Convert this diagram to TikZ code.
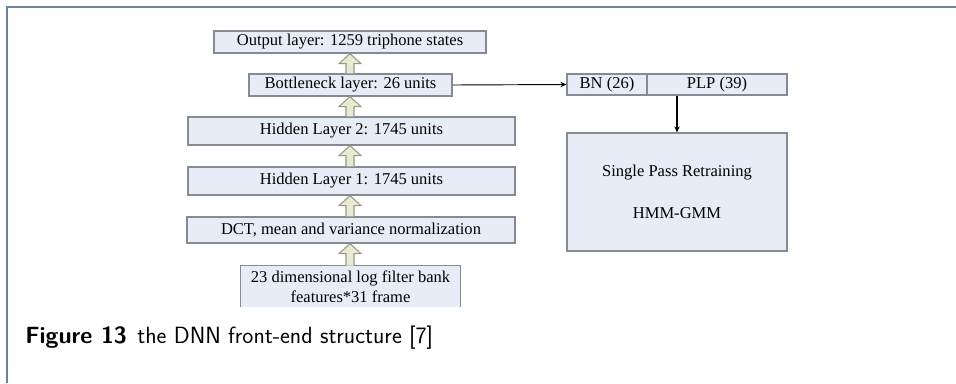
\documentclass[tikz,border=0pt]{standalone}
\usepackage{fontspec}
\setmainfont{Liberation Serif}
\usetikzlibrary{calc,arrows.meta}
\definecolor{boxfill}{HTML}{E7EDF7}
\definecolor{boxline}{HTML}{858A94}
\definecolor{liftfill}{HTML}{E9EAD3}
\definecolor{liftline}{HTML}{9A9A84}
\definecolor{framecol}{HTML}{6A829B}
\tikzset{
  layer/.style={draw=boxline, fill=boxfill, line width=0.9pt, inner sep=0pt,
    font=\fontsize{12.4pt}{14pt}\selectfont, align=center},
  liftstyle/.style={draw=liftline, fill=liftfill, line width=0.8pt, line join=miter},
  flow/.style={draw=black, line width=0.7pt, -{Stealth[length=4.5pt,width=4pt]}}
}
% hollow upward block arrow from the top of box #1 to the bottom of box #2
\newcommand\liftarrow[2]{%
  \path[liftstyle] let \p1=(#1.north), \p2=(#2.south) in
    (262.5pt-3pt,\y1) -- (262.5pt-3pt,\y2-7.5pt) -- (262.5pt-8.25pt,\y2-7.5pt)
    -- (262.5pt,\y2) -- (262.5pt+8.25pt,\y2-7.5pt) -- (262.5pt+3pt,\y2-7.5pt)
    -- (262.5pt+3pt,\y1);}
\begin{document}
\begin{tikzpicture}[x=0.75pt,y=-0.75pt]
\useasboundingbox (0,0) rectangle (956,383);
% page frame
\draw[framecol, line width=1.1pt] (7,383) -- (7,7) -- (956,7);

% network stack
\node[layer, minimum width=204pt, minimum height=16.5pt] (out) at (350,42) {Output layer: 1259 triphone states};
\node[layer, minimum width=152.25pt, minimum height=16.5pt] (bn) at (350.5,85) {Bottleneck layer: 26 units};
\node[layer, minimum width=245.25pt, minimum height=21pt] (h2) at (351.5,131) {Hidden Layer 2: 1745 units};
\node[layer, minimum width=245.25pt, minimum height=21pt] (h1) at (351.5,181) {Hidden Layer 1: 1745 units};
\node[layer, minimum width=246pt, minimum height=19.5pt] (dct) at (351,230) {DCT, mean and variance normalization};
% input box (open at the bottom)
\node[inner sep=0pt, minimum width=164.25pt, minimum height=30.75pt, fill=boxfill,
  font=\fontsize{12.4pt}{15pt}\selectfont, align=center] (in) at (350.5,286.5)
  {23 dimensional log filter bank\\features*31 frame};
\draw[boxline, line width=0.9pt] (in.south west) -- (in.north west) -- (in.north east) -- (in.south east);

\liftarrow{bn}{out}
\liftarrow{h2}{bn}
\liftarrow{h1}{h2}
\liftarrow{dct}{h1}
\liftarrow{in}{dct}

% retraining branch
\node[layer, minimum width=60pt, minimum height=15.75pt] (bnf) at (607,84.5) {BN (26)};
\node[layer, minimum width=105pt, minimum height=15.75pt] (plp) at (717,84.5) {PLP (39)};
\node[layer, minimum width=165pt, minimum height=88.5pt] (hmm) at (677,192) {};
\node[font=\fontsize{12.4pt}{14pt}\selectfont] (sp) at (677,173) {Single Pass Retraining};
\node[font=\fontsize{12.4pt}{14pt}\selectfont] (hg) at (677,213) {HMM-GMM};

\draw[flow] (bn.east) -- (bnf.west);
\draw[flow, line width=1.1pt] (plp.south -| hmm.north) -- (hmm.north);

% caption
\node[anchor=west, inner sep=0pt, font=\sffamily\fontsize{17.6pt}{20pt}\selectfont] (cap) at (25,338)
  {\textbf{Figure 13}\hspace{0.45em}the DNN front-end structure [7]};
\end{tikzpicture}
\end{document}
